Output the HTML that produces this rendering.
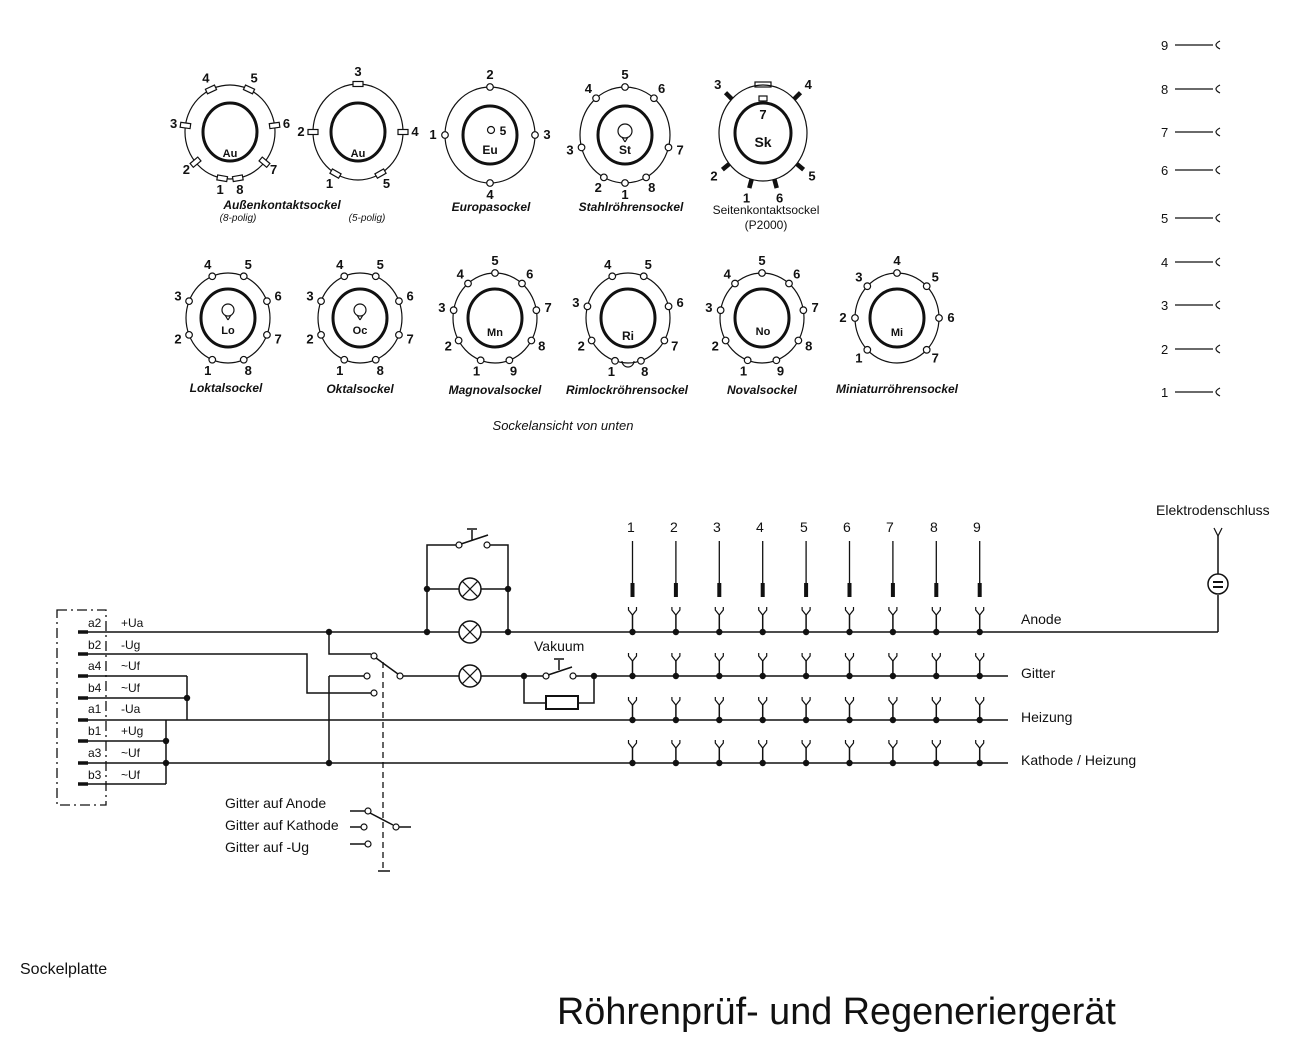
<!DOCTYPE html>
<html><head><meta charset="utf-8"><style>
html,body{margin:0;padding:0;background:#fff;}
svg{display:block}
text{font-family:"Liberation Sans",sans-serif;fill:#111}
.sl{font-style:italic;font-weight:bold;font-size:12px}
.pn{font-size:13px;font-weight:bold}
</style></head><body>
<svg id="s" width="1297" height="1042" viewBox="0 0 1297 1042" xmlns="http://www.w3.org/2000/svg" stroke="#111" fill="none" stroke-width="1.5">
<g stroke="none">
<text class="sl" x="282" y="209" text-anchor="middle">Außenkontaktsockel</text>
<text class="sl" x="238" y="221" text-anchor="middle" style="font-size:10px;font-weight:normal">(8-polig)</text>
<text class="sl" x="367" y="221" text-anchor="middle" style="font-size:10px;font-weight:normal">(5-polig)</text>
<text class="sl" x="491" y="211" text-anchor="middle">Europasockel</text>
<text class="sl" x="631" y="211" text-anchor="middle">Stahlröhrensockel</text>
<text x="766" y="214" text-anchor="middle" style="font-size:12px">Seitenkontaktsockel</text>
<text x="766" y="229" text-anchor="middle" style="font-size:12px">(P2000)</text>
<text class="sl" x="226" y="392" text-anchor="middle">Loktalsockel</text>
<text class="sl" x="360" y="393" text-anchor="middle">Oktalsockel</text>
<text class="sl" x="495" y="394" text-anchor="middle">Magnovalsockel</text>
<text class="sl" x="627" y="394" text-anchor="middle">Rimlockröhrensockel</text>
<text class="sl" x="762" y="394" text-anchor="middle">Novalsockel</text>
<text class="sl" x="897" y="393" text-anchor="middle">Miniaturröhrensockel</text>
<text x="563" y="430" text-anchor="middle" style="font-size:13px;font-style:italic">Sockelansicht von unten</text>
<text x="230" y="157" text-anchor="middle" class="pn" style="font-size:11px">Au</text>
<text x="358" y="157" text-anchor="middle" class="pn" style="font-size:11px">Au</text>
<text x="490" y="154" text-anchor="middle" class="pn" style="font-size:12px">Eu</text>
<text x="503" y="135" text-anchor="middle" class="pn" style="font-size:12px">5</text>
<text x="625" y="154" text-anchor="middle" class="pn" style="font-size:12px">St</text>
<text x="763" y="119" text-anchor="middle" class="pn" style="font-size:13px">7</text>
<text x="763" y="147" text-anchor="middle" class="pn" style="font-size:14px">Sk</text>
<text x="228" y="334" text-anchor="middle" class="pn" style="font-size:11px">Lo</text>
<text x="360" y="334" text-anchor="middle" class="pn" style="font-size:11px">Oc</text>
<text x="495" y="336" text-anchor="middle" class="pn" style="font-size:11px">Mn</text>
<text x="628" y="340" text-anchor="middle" class="pn" style="font-size:12px">Ri</text>
<text x="763" y="335" text-anchor="middle" class="pn" style="font-size:11px">No</text>
<text x="897" y="336" text-anchor="middle" class="pn" style="font-size:11px">Mi</text>
<g id="labels"></g>
<g style="font-size:13px">
<text x="1161" y="50">9</text><text x="1161" y="94">8</text><text x="1161" y="137">7</text><text x="1161" y="175">6</text><text x="1161" y="223">5</text><text x="1161" y="267">4</text><text x="1161" y="310">3</text><text x="1161" y="354">2</text><text x="1161" y="397">1</text>
</g>
<g style="font-size:14px">
<text x="627" y="532">1</text><text x="670" y="532">2</text><text x="713" y="532">3</text><text x="756" y="532">4</text><text x="800" y="532">5</text><text x="843" y="532">6</text><text x="886" y="532">7</text><text x="930" y="532">8</text><text x="973" y="532">9</text>
</g>
<g style="font-size:14px">
<text x="1156" y="515">Elektrodenschluss</text>
<text x="1021" y="624">Anode</text>
<text x="1021" y="678">Gitter</text>
<text x="1021" y="722">Heizung</text>
<text x="1021" y="765">Kathode / Heizung</text>
<text x="534" y="651">Vakuum</text>
<text x="225" y="808">Gitter auf Anode</text>
<text x="225" y="830">Gitter auf Kathode</text>
<text x="225" y="852">Gitter auf -Ug</text>
</g>
<g style="font-size:12px">
<text x="88" y="627">a2</text><text x="88" y="649">b2</text><text x="88" y="670">a4</text><text x="88" y="692">b4</text><text x="88" y="713">a1</text><text x="88" y="735">b1</text><text x="88" y="757">a3</text><text x="88" y="779">b3</text>
<text x="121" y="627">+Ua</text><text x="121" y="649">-Ug</text><text x="121" y="670">~Uf</text><text x="121" y="692">~Uf</text><text x="121" y="713">-Ua</text><text x="121" y="735">+Ug</text><text x="121" y="757">~Uf</text><text x="121" y="779">~Uf</text>
</g>
<text x="20" y="974" style="font-size:16px">Sockelplatte</text>
<text x="557" y="1024" style="font-size:37.8px">Röhrenprüf- und Regeneriergerät</text>
</g>
<g id="g"></g>
</svg>
<script>
var g=document.getElementById('g'),L=document.getElementById('labels'),NS='http://www.w3.org/2000/svg';
function el(t,a,p){var e=document.createElementNS(NS,t);for(var k in a)e.setAttribute(k,a[k]);(p||g).appendChild(e);return e;}
function ln(x1,y1,x2,y2,w){el('line',{x1:x1,y1:y1,x2:x2,y2:y2,'stroke-width':w||1.5});}
function pl(pts,w){el('polyline',{points:pts,'stroke-width':w||1.5});}
function dot(x,y){el('circle',{cx:x,cy:y,r:3.2,fill:'#111',stroke:'none'});}
function oc(x,y,r){el('circle',{cx:x,cy:y,r:r||3,fill:'#fff','stroke-width':1.2});}
function tx(x,y,s,fs){var t=el('text',{x:x,y:y+4,'text-anchor':'middle',stroke:'none','font-size':fs||12,'font-weight':'bold'},L);t.textContent=s;}
function sock(cx,cy,rx,ry,pins,type,ri){
 el('ellipse',{cx:cx,cy:cy,rx:rx,ry:ry,'stroke-width':1.2});
 el('ellipse',{cx:cx,cy:cy,rx:ri||27,ry:(ri||27)+2,'stroke-width':3});
 pins.forEach(function(p){var a=p[1]*Math.PI/180,x=cx+rx*Math.cos(a),y=cy+ry*Math.sin(a);
  if(type=='c')oc(x,y,3.3);
  else if(type=='r'){el('rect',{x:-2.5,y:-5,width:5,height:10,fill:'#fff','stroke-width':1.2,transform:'translate('+x+','+y+') rotate('+(p[1]+90+ (Math.abs(Math.sin(a))>0.7?90:0))+')'});}
  else if(type=='k'){var x2=cx+(rx+9)*Math.cos(a),y2=cy+(ry+9)*Math.sin(a);ln(x,y,x2,y2,4.5);}
  var d=type=='k'?20:12;tx(cx+(rx+d)*Math.cos(a),cy+(ry+d)*Math.sin(a),p[0],13);});
}
sock(230,132,45,47,[['4',-115],['5',-65],['6',-8],['7',40],['8',80],['1',100],['2',140],['3',188]],'r');
sock(358,132,45,48,[['3',-90],['4',0],['5',60],['1',120],['2',180]],'r');
sock(490,135,45,48,[['2',-90],['3',0],['4',90],['1',180]],'c');
oc(491,130,3.5);
sock(625,135,45,48,[['5',-90],['6',-50],['7',15],['8',62],['1',90],['2',118],['3',165],['4',230]],'c');
sock(763,133,44,48,[['3',-135],['4',-45],['5',40],['6',75],['1',105],['2',140]],'k',28);
el('rect',{x:755,y:82,width:16,height:5,'stroke-width':1.2});
el('rect',{x:759,y:96,width:8,height:5,'stroke-width':1.2});
el('circle',{cx:625,cy:131,r:7,'stroke-width':1.2});ln(622,137,625,142,1.2);ln(628,137,625,142,1.2);
sock(228,318,42,45,[['4',-112],['5',-68],['6',-22],['7',22],['8',68],['1',112],['2',158],['3',202]],'c');
sock(360,318,42,45,[['4',-112],['5',-68],['6',-22],['7',22],['8',68],['1',112],['2',158],['3',202]],'c');
[228,360].forEach(function(x){el('circle',{cx:x,cy:310,r:6,'stroke-width':1.2});ln(x-3,315,x,320,1.2);ln(x+3,315,x,320,1.2);});
var nine=[['5',-90],['6',-50],['7',-10],['8',30],['9',70],['1',110],['2',150],['3',190],['4',230]];
sock(495,318,42,45,nine,'c');
sock(628,318,42,45,[['4',-112],['5',-68],['6',-15],['7',30],['8',72],['1',108],['2',150],['3',195]],'c');
el('path',{d:'M622 361 A6 6 0 0 0 634 361','stroke-width':1.2});
sock(762,318,42,45,nine,'c');
sock(897,318,42,45,[['4',-90],['5',-45],['6',0],['7',45],['1',135],['2',180],['3',225]],'c');
[45,89,132,170,218,262,305,349,392].forEach(function(y){ln(1175,y,1213,y,1.2);el('path',{d:'M1220 '+(y-4)+' Q1212 '+y+' 1220 '+(y+4),'stroke-width':1.2});});
el('rect',{x:57,y:610,width:49,height:195,'stroke-width':1.3,'stroke-dasharray':'10,4,2,4'});
var Y=[632,654,676,698,720,741,763,784];
Y.forEach(function(y){ln(78,y,88,y,3.5);});
ln(88,632,1218,632);
pl('88,654 307,654 307,693 371,693');
ln(88,676,187,676);ln(187,676,187,720);
ln(88,698,187,698);dot(187,698);
ln(88,720,1008,720);
ln(88,741,166,741);ln(88,784,166,784);ln(166,720,166,784);dot(166,741);dot(166,763);
ln(88,763,1008,763);
dot(329,632);pl('329,632 329,654 371,654');oc(374,656);oc(367,676);oc(374,693);
ln(329,676,364,676);ln(329,676,329,763);dot(329,763);
ln(376,658,398,674);oc(400,676);
ln(403,676,459,676);
el('line',{x1:383,y1:662,x2:383,y2:871,'stroke-width':1.3,'stroke-dasharray':'6,4'});ln(378,871,390,871);
function lamp(x,y){el('circle',{cx:x,cy:y,r:11,fill:'#fff'});var d=7.8;ln(x-d,y-d,x+d,y+d,1.2);ln(x-d,y+d,x+d,y-d,1.2);}
lamp(470,632);lamp(470,589);lamp(470,676);
pl('427,632 427,545 459,545');pl('487,545 508,545 508,632');
dot(427,632);dot(508,632);dot(427,589);dot(508,589);ln(427,589,459,589);ln(481,589,508,589);
oc(459,545);oc(487,545);ln(461,544,488,535);ln(472,530,472,540);ln(467,529,477,529);
ln(481,676,546,676);dot(524,676);oc(546,676);oc(573,676);ln(548,675,572,667);ln(559,660,559,670);ln(554,659,564,659);
ln(576,676,1008,676);dot(594,676);
pl('524,676 524,703 546,703');pl('578,703 594,703 594,676');el('rect',{x:546,y:696,width:32,height:13,'stroke-width':2});
for(var i=0;i<9;i++){var x=632.5+43.4*i;ln(x,541,x,583,1.3);ln(x,583,x,597,4);
 [[607,632],[653,676],[697,720],[740,763]].forEach(function(r){ln(x,r[0]+8,x,r[1]);el('path',{d:'M'+(x-4)+' '+r[0]+' L'+(x-4)+' '+(r[0]+3)+' L'+x+' '+(r[0]+8)+' L'+(x+4)+' '+(r[0]+3)+' L'+(x+4)+' '+r[0],'stroke-width':1.2});dot(x,r[1]);});}
ln(1218,632,1218,595);el('circle',{cx:1218,cy:584,r:10});ln(1213,582,1223,582,2);ln(1213,587,1223,587,2);ln(1218,574,1218,536);
el('path',{d:'M1214 528 L1218 536 L1222 528','stroke-width':1.2});
ln(350,811,365,811);oc(368,811);ln(370,813,393,825);oc(396,827);ln(399,827,411,827);
ln(350,827,361,827);oc(364,827);ln(350,844,365,844);oc(368,844);
</script>
</body></html>
